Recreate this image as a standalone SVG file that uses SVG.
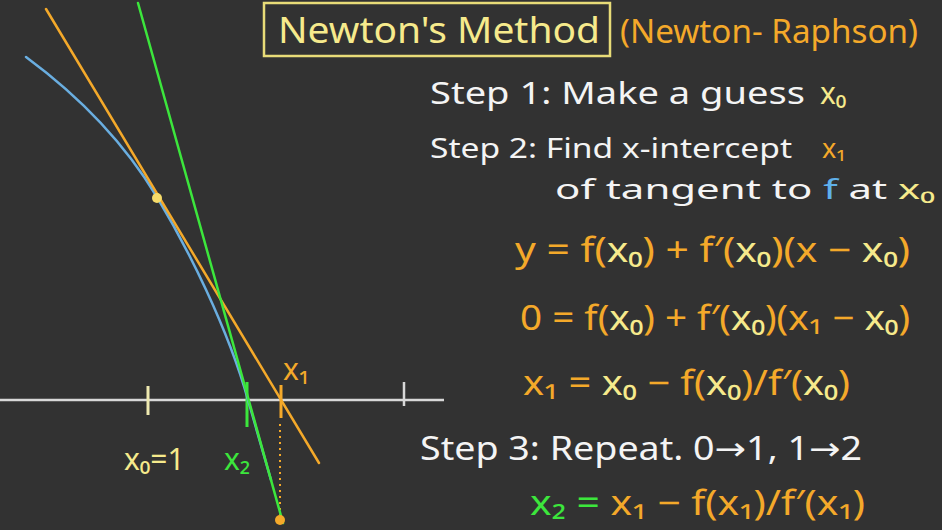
<svg xmlns="http://www.w3.org/2000/svg" width="942" height="530" viewBox="0 0 942 530">
<style>
text{font-family:"Noto Sans","DejaVu Sans",sans-serif;}
.w{fill:#f4f4f4}
.o{fill:#f4a92a}
.y{fill:#f6ea8c}
.g{fill:#3ce63c}
.b{fill:#5fb0ea}
.ln{fill:none;stroke-linecap:round}
</style>
<rect width="942" height="530" fill="#323232"/>
<g id="axis">
<line x1="0" y1="400" x2="444" y2="400" stroke="#d8d8d8" stroke-width="2.5"/>
<line x1="148" y1="386" x2="148" y2="415" stroke="#eee9b0" stroke-width="3"/>
<line x1="404" y1="382" x2="404" y2="406" stroke="#d8d8d8" stroke-width="2.5"/>
<line x1="247" y1="382" x2="247" y2="427" stroke="#3ce63c" stroke-width="3"/>
<line x1="281" y1="385" x2="281" y2="418" stroke="#f4a92a" stroke-width="3"/>
<line x1="280" y1="424" x2="280" y2="515" stroke="#f4a92a" stroke-width="2" stroke-dasharray="2 4"/>
</g>
<g id="curve">
<path class="ln" d="M26,57 Q110,119 157,197 C187,247 228,328 248,400 L271,480" stroke="#6aaee0" stroke-width="2.5"/>
</g>
<g id="tangent1">
<line class="ln" x1="46" y1="9" x2="319" y2="463" stroke="#f4a92a" stroke-width="2.5"/>
</g>
<g id="tangent2">
<line class="ln" x1="138" y1="3" x2="283" y2="523" stroke="#3ce63c" stroke-width="2.5"/>
</g>
<g id="points">
<circle cx="157" cy="198" r="5" fill="#f6dc6a"/>
<circle cx="280" cy="520" r="5" fill="#f4a92a"/>
</g>
<g id="axis-labels">
<text x="124" y="470" font-size="30" class="y">x₀=1</text>
<text x="224" y="470" font-size="30" class="g">x₂</text>
<text x="283" y="380" font-size="30" class="o">x₁</text>
</g>
<g id="title">
<rect x="264" y="3" width="346" height="53" fill="none" stroke="#e8dc78" stroke-width="2.5"/>
<text x="278" y="43" font-size="36" class="y" textLength="322" lengthAdjust="spacingAndGlyphs">Newton's Method</text>
<text x="620" y="43" font-size="32" class="o" textLength="298" lengthAdjust="spacingAndGlyphs">(Newton- Raphson)</text>
</g>
<g id="steps">
<text x="430" y="104" font-size="30" class="w" textLength="375" lengthAdjust="spacingAndGlyphs">Step 1: Make a guess</text>
<text x="820" y="104" font-size="30" class="y">x₀</text>
<text x="430" y="158" font-size="27" class="w" textLength="362" lengthAdjust="spacingAndGlyphs">Step 2: Find x-intercept</text>
<text x="822" y="158" font-size="27" class="o">x₁</text>
<text x="555" y="199" font-size="27" class="w" textLength="380" lengthAdjust="spacingAndGlyphs">of tangent to <tspan class="b">f</tspan> at <tspan class="y">x₀</tspan></text>
<text x="420" y="460" font-size="32" class="w" textLength="442" lengthAdjust="spacingAndGlyphs">Step 3: Repeat.  0→1, 1→2</text>
</g>
<g id="equations">
<text x="515" y="262" font-size="34" class="o" textLength="395" lengthAdjust="spacingAndGlyphs">y = f(<tspan class="y">x₀</tspan>) + f′(<tspan class="y">x₀</tspan>)(x − <tspan class="y">x₀</tspan>)</text>
<text x="520" y="330" font-size="34" class="o" textLength="390" lengthAdjust="spacingAndGlyphs">0 = f(<tspan class="y">x₀</tspan>) + f′(<tspan class="y">x₀</tspan>)(x₁ − <tspan class="y">x₀</tspan>)</text>
<text x="523" y="395" font-size="34" class="o" textLength="327" lengthAdjust="spacingAndGlyphs">x₁ = <tspan class="y">x₀</tspan> − f(<tspan class="y">x₀</tspan>)/f′(<tspan class="y">x₀</tspan>)</text>
<text x="530" y="515" font-size="34" class="o" textLength="335" lengthAdjust="spacingAndGlyphs"><tspan class="g">x₂ =</tspan> x₁ − f(x₁)/f′(x₁)</text>
</g>
</svg>
